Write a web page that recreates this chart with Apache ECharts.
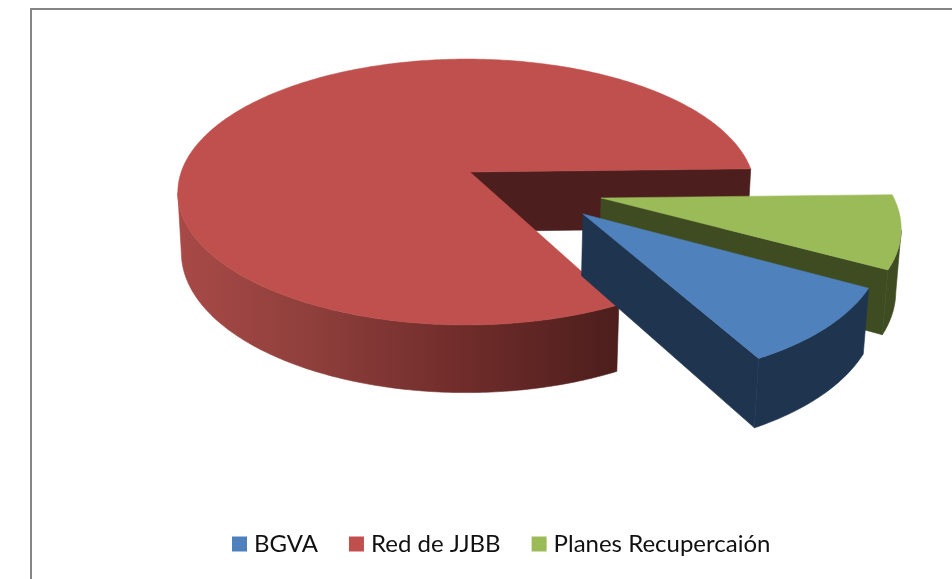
<!DOCTYPE html>
<html>
<head>
<meta charset="utf-8">
<style>html,body{margin:0;padding:0;background:#fff}#c{width:952px;height:579px}</style>
<script src="https://cdn.jsdelivr.net/npm/echarts@6/dist/echarts.min.js"></script>
</head>
<body>
<div id="c"></div>
<script>
const categories = ['BGVA', 'Red de JJBB', 'Planes Recupercaión'];
const shares = [9.2, 82.3, 8.5];
const topColors = ['#4f81bd', '#c0504d', '#9bbb59'];
const wallColors = ['#1f344f', '#4c1f1e', '#3f4c22'];
const startAngle = -1.4;            // green starts just above east, going clockwise

// Perspective model of the pie
const view = {cx: 470, cy: 172, d: 6.65, f: 1875, g: 864, h: 400, m: 0.08};
// hub position of each slice (world units), rim centre offset and radii
const hubs = [[0.382, 0.308], [0, 0], [0.4514, 0.194]];
const rimOffsetX = [0, -0.0124, 0];
const radiusX = [0.99, 1.012, 1.008];
const radiusY = [0.985, 1, 0.99];

function project(X, Y, z) {
  const D = view.d - Y + view.m * z;
  return [view.cx + view.f * X / D, view.cy + (view.g * Y + view.h * z) / D];
}

const total = shares.reduce((a, b) => a + b, 0);
const spans = {};
let acc = startAngle;
[2, 0, 1].forEach(i => { const a = acc; acc += shares[i] / total * 360; spans[i] = [a, acc]; });

function rimPoint(i, deg, z) {
  const t = deg * Math.PI / 180;
  return project(hubs[i][0] + rimOffsetX[i] + radiusX[i] * Math.cos(t),
                 hubs[i][1] + radiusY[i] * Math.sin(t), z);
}
function arc(i, a0, a1, z) {
  const pts = [], n = Math.max(2, Math.ceil((a1 - a0) / 0.75));
  for (let k = 0; k <= n; k++) pts.push(rimPoint(i, a0 + (a1 - a0) * k / n, z));
  return pts;
}
// the outer wall only shows where it faces the viewer
function faces(i, deg) {
  const t = deg * Math.PI / 180;
  return -(hubs[i][0] + rimOffsetX[i]) * Math.cos(t) + (view.d - hubs[i][1]) * Math.sin(t) - 1 > 0;
}
function visibleRange(i) {
  const [a0, a1] = spans[i];
  let lo = null, hi = null;
  for (let a = a0; a <= a1; a += 0.25) {
    if (faces(i, a)) { if (lo === null) lo = a; hi = a; }
  }
  if (faces(i, a1)) hi = a1;
  return [lo, hi];
}

function renderSlice(i) {
  const [a0, a1] = spans[i];
  const hub0 = project(hubs[i][0], hubs[i][1], 0), hub1 = project(hubs[i][0], hubs[i][1], 1);
  const [v0, v1] = visibleRange(i);
  const side = arc(i, v0, v1, 0).concat(arc(i, v0, v1, 1).reverse());
  let sideFill = wallColors[i];
  if (i === 1) {
    sideFill = {type: 'linear', x: 0, y: 0, x2: 1, y2: 0, colorStops: [
      {offset: 0, color: '#a84a47'}, {offset: 0.3, color: '#8f3f3c'},
      {offset: 0.65, color: '#6f2c2a'}, {offset: 1, color: '#4c1e1c'}]};
  }
  const top = {fill: topColors[i], stroke: topColors[i], lineWidth: 0.5};
  return {type: 'group', children: [
    {type: 'polygon', shape: {points: [hub0, rimPoint(i, a1, 0), rimPoint(i, a1, 1), hub1]},
      style: {fill: wallColors[i], stroke: wallColors[i], lineWidth: 0.6}},
    {type: 'polygon', shape: {points: side}, style: {fill: sideFill, stroke: sideFill, lineWidth: 0.6}},
    {type: 'polygon', shape: {points: [hub0].concat(arc(i, a0, a1, 0))}, style: top}
  ]};
}

const chart = echarts.init(document.getElementById('c'), null, {renderer: 'canvas'});
chart.setOption({
  backgroundColor: '#fff',
  animation: false,
  color: topColors,
  legend: {
    data: categories.map(name => ({name, icon: 'rect'})),
    left: 232, top: 532, padding: 0, itemWidth: 15, itemHeight: 15, itemGap: 31,
    selectedMode: false,
    textStyle: {fontFamily: 'Lato', fontSize: 24, color: '#111', padding: [0, 0, 0, 2]}
  },
  graphic: [{type: 'polyline', z: 0, silent: true,
    shape: {points: [[31, 590], [31, 9], [960, 9]]},
    style: {stroke: '#868686', lineWidth: 2, fill: null}}],
  // draw order: red behind, then green, then blue on top
  series: [1, 2, 0].map(i => ({
    type: 'custom', name: categories[i], coordinateSystem: 'none',
    data: [shares[i]], silent: true, z: 2,
    itemStyle: {color: topColors[i]},
    renderItem: () => renderSlice(i)
  }))
});
</script>
</body>
</html>
